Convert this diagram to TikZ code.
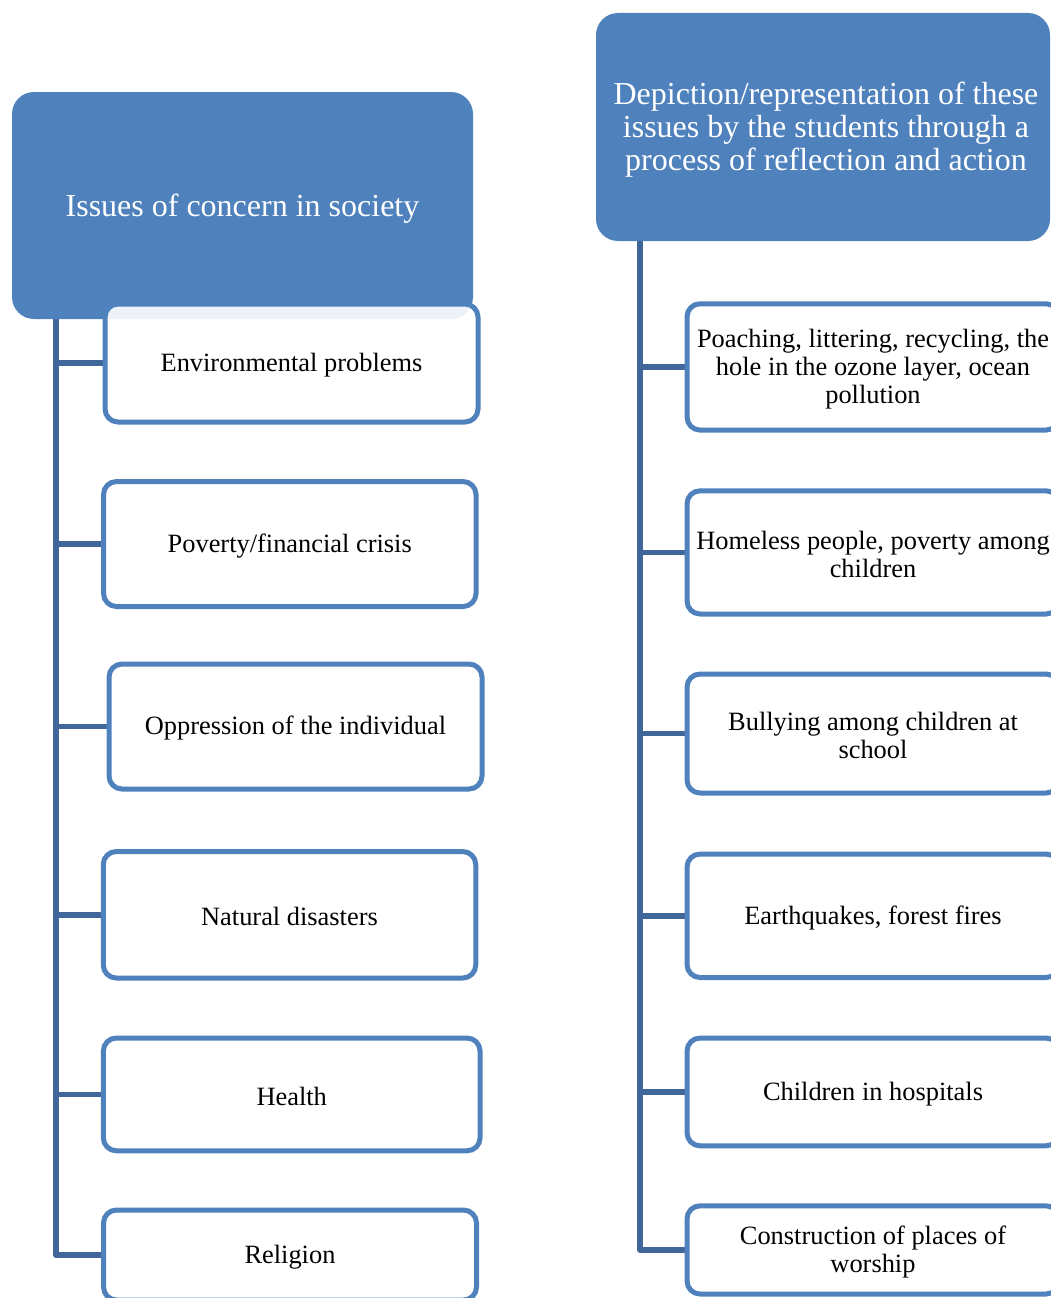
\documentclass[tikz,border=0pt]{standalone}
\usepackage{fontspec}
\setmainfont{Liberation Serif}
\usetikzlibrary{backgrounds}
\definecolor{hdrblue}{HTML}{4F81BD}
\definecolor{connblue}{HTML}{41669A}
\tikzset{
  hdr/.style={rectangle, rounded corners=22pt, fill=hdrblue, draw=none,
    inner sep=0pt, outer sep=0pt},
  hdrtext/.style={text=white, align=center, inner sep=0pt,
    font=\fontsize{32}{33}\selectfont},
  itembox/.style={rectangle, rounded corners=13pt, draw=hdrblue, line width=5pt,
    fill=white, fill opacity=0.9, inner sep=0pt, outer sep=0pt},
  itemtext/.style={text=black, align=center, inner sep=0pt, yshift=-2pt,
    font=\fontsize{26.4}{28}\selectfont},
  conn/.style={draw=connblue, line width=5.5pt, line join=round}
}
\begin{document}
\begin{tikzpicture}[x=1pt,y=-1pt]
\useasboundingbox (0,0) rectangle (1051,1298);
\clip (0,0) rectangle (1051,1298);
% headers
\node[hdr, minimum width=461pt, minimum height=227pt] (hl) at (242.5,205.5) {};
\node[hdrtext, yshift=-3pt] (hlt) at (hl.center) {Issues of concern in society};
\node[hdr, minimum width=454pt, minimum height=228pt] (hr) at (823,127) {};
\node[hdrtext, yshift=-3pt, xshift=3pt] (hrt) at (hr.center) {Depiction/representation of these\\issues by the students through a\\process of reflection and action};
% trunks
\coordinate (lt) at (56,319);
\coordinate (rt) at (640,241);
% left boxes
\node[itembox, minimum width=373pt, minimum height=118pt] (l1) at (291.5,363) {};
\node[itemtext] (l1t) at (l1.center) {Environmental problems};
\node[itembox, minimum width=372.5pt, minimum height=125pt] (l2) at (289.75,544) {};
\node[itemtext] (l2t) at (l2.center) {Poverty/financial crisis};
\node[itembox, minimum width=373pt, minimum height=125pt] (l3) at (295.5,726.5) {};
\node[itemtext] (l3t) at (l3.center) {Oppression of the individual};
\node[itembox, minimum width=372.5pt, minimum height=126.5pt] (l4) at (289.5,914.75) {};
\node[itemtext] (l4t) at (l4.center) {Natural disasters};
\node[itembox, minimum width=376.7pt, minimum height=112.8pt] (l5) at (291.7,1094.4) {};
\node[itemtext] (l5t) at (l5.center) {Health};
\node[itembox, minimum width=373pt, minimum height=90pt] (l6) at (290,1255) {};
\node[itemtext] (l6t) at (l6.center) {Religion};
% right boxes
\node[itembox, minimum width=372pt, minimum height=126.3pt] (r1) at (873,366.9) {};
\node[itemtext] (r1t) at (r1.center) {Poaching, littering, recycling, the\\hole in the ozone layer, ocean\\pollution};
\node[itembox, minimum width=372pt, minimum height=123.2pt] (r2) at (873,552.4) {};
\node[itemtext] (r2t) at (r2.center) {Homeless people, poverty among\\children};
\node[itembox, minimum width=372pt, minimum height=119pt] (r3) at (873,733.5) {};
\node[itemtext] (r3t) at (r3.center) {Bullying among children at\\school};
\node[itembox, minimum width=372pt, minimum height=123.5pt] (r4) at (873,915.75) {};
\node[itemtext] (r4t) at (r4.center) {Earthquakes, forest fires};
\node[itembox, minimum width=372pt, minimum height=107.8pt] (r5) at (873,1091.9) {};
\node[itemtext] (r5t) at (r5.center) {Children in hospitals};
\node[itembox, minimum width=372pt, minimum height=88.2pt] (r6) at (873,1249.9) {};
\node[itemtext] (r6t) at (r6.center) {Construction of places of\\worship};
% connectors (behind boxes)
\begin{pgfonlayer}{background}
\draw[conn] (lt) |- (l6.west);
\foreach \b in {l1,l2,l3,l4,l5}{
  \draw[conn] (lt |- \b.west) -- (\b.west);
}
\draw[conn] (rt) |- (r6.west);
\foreach \b in {r1,r2,r3,r4,r5}{
  \draw[conn] (rt |- \b.west) -- (\b.west);
}
\end{pgfonlayer}
\end{tikzpicture}
\end{document}
